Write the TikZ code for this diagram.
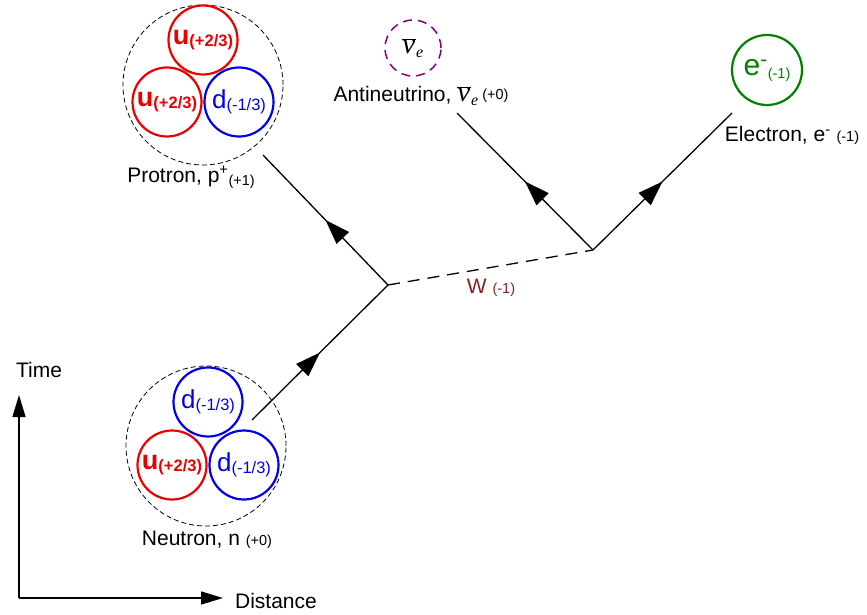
\documentclass[tikz,border=0pt]{standalone}
\usepackage{fontspec}
\setmainfont{Liberation Sans}
\newfontfamily\greekfont{Liberation Serif}
\usetikzlibrary{arrows.meta,
                decorations.markings,
                positioning}

\definecolor{quarkred}{RGB}{235,0,0}
\definecolor{quarkblue}{RGB}{0,0,235}
\definecolor{elecgreen}{RGB}{0,128,0}
\definecolor{nupurple}{RGB}{128,0,128}
\definecolor{wred}{RGB}{140,30,30}

\newcommand{\lblsize}{\fontsize{21}{25}\selectfont}
\newcommand{\chgsize}{\fontsize{14.5}{16}\selectfont}
\newcommand{\upq}{{\fontsize{27}{27}\selectfont\bfseries u}\raisebox{-2pt}{\fontsize{16.5}{17}\selectfont\bfseries(+2/3)}}
\newcommand{\downq}{{\fontsize{26}{26}\selectfont d}\raisebox{-2pt}{\fontsize{16.5}{17}\selectfont(-1/3)}}
\newcommand{\antinu}{$\overline{\hbox{\greekfont\itshape\fontsize{29}{29}\selectfont ν\kern1pt}}_{\hbox{\greekfont\itshape\fontsize{16}{16}\selectfont e}}$}

\begin{document}
\begin{tikzpicture}[
    x=1pt, y=-1pt,
        quark/.style = {circle, draw, line width=2.2pt, minimum size=69pt, inner sep=0pt},
        upquark/.style = {quark, draw=quarkred, text=quarkred},
        downquark/.style = {quark, draw=quarkblue, text=quarkblue},
        hadron/.style = {circle, draw, line width=0.8pt, dash pattern=on 5pt off 3pt, minimum size=160pt},
        label/.style = {anchor=base, font=\lblsize},
        fermion/.style = {line width=1.3pt, postaction={decorate},
                    decoration={markings, mark=at position 0.5 with {\arrow{Triangle[length=25pt,width=17pt]}}}},
        boson/.style = {line width=1.3pt, dash pattern=on 12pt off 8pt},
        axis/.style = {line width=1.3pt, -{Triangle[length=22pt,width=13pt]}}
        ]
    \useasboundingbox (0,0) rectangle (867,615);

    % Proton
    \node[hadron] (proton) at (203,85) {};
    \node[upquark] (p-u1) at (203,40) {\upq};
    \node[upquark] (p-u2) at (167,102) {\upq};
    \node[downquark] (p-d1) at (239,102) {\downq};
    \node[label] (p-text) at (191,182) {Protron, p\textsuperscript{+}\raisebox{-3pt}{\chgsize(+1)}};

    % Neutron
    \node[hadron] (neutron) at (206,446) {};
    \node[downquark] (n-d1) at (208,402) {\downq};
    \node[upquark] (n-u1) at (172,465) {\upq};
    \node[downquark] (n-d2) at (244,465) {\downq};
    \node[label] (n-text) at (207,545) {Neutron, n {\chgsize(+0)}};

    % Antineutrino
    \node[circle, draw=nupurple, line width=1.5pt, dash pattern=on 9pt off 6pt,
          minimum size=56pt, inner sep=0pt] (nu) at (413,48) {\antinu};
    \node[label] (nu-text) at (421,102) {Antineutrino, \antinu\,\raisebox{2pt}{\chgsize(+0)}};

    % Electron
    \node[circle, draw=elecgreen, text=elecgreen, line width=2.2pt,
          minimum size=70pt, inner sep=0pt] (el) at (767,70)
          {{\fontsize{30}{30}\selectfont e\textsuperscript{-}}\raisebox{-3pt}{\chgsize(-1)}};
    \node[label] (el-text) at (792,142) {Electron, e\textsuperscript{-} {\chgsize(-1)}};

    % Vertices and line ends
    \coordinate (v-1) at (388,285);
    \coordinate (v-2) at (593,250);
    \coordinate (n-end) at (252,420);
    \coordinate (p-end) at (263,155);
    \coordinate (nu-end) at (457,113);
    \coordinate (el-end) at (732,113);

    % Lines
    \draw[fermion] (n-end) -- (v-1);
    \draw[fermion] (v-1) -- (p-end);
    \draw[boson] (v-1) -- (v-2);
    \draw[fermion] (v-2) -- (nu-end);
    \draw[fermion] (v-2) -- (el-end);
    \node[label, text=wred] (w-text) at (491,293) {W {\chgsize(-1)}};

    % Axes
    \coordinate (origin) at (19,598);
    \coordinate (t-end) at (19,395);
    \coordinate (x-end) at (223,598);
    \draw[axis] (origin) -- (t-end);
    \draw[axis] (origin) -- (x-end);
    \node[label] (t-text) at (39,377) {Time};
    \node[label] (x-text) at (276,608) {Distance};
\end{tikzpicture}
\end{document}
